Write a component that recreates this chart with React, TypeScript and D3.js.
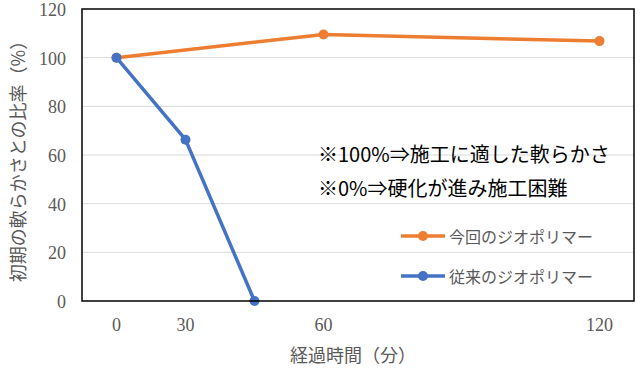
import React from "react";
import * as d3 from "d3";

const categories = ["0", "30", "45", "60", "75", "90", "105", "120"];
const tickLabels = ["0", "30", "", "60", "", "", "", "120"];
const newSeries: [string, number][] = [["0", 100], ["60", 109.5], ["120", 106.8]];
const oldSeries: [string, number][] = [["0", 100], ["30", 66.3], ["45", 0]];
const yTicks = [0, 20, 40, 60, 80, 100, 120];
const seriesNames = ["今回のジオポリマー", "従来のジオポリマー"];
const notes = ["※100%⇒施工に適した軟らかさ", "※0%⇒硬化が進み施工困難"];

const W = 640, H = 370;
const left = 82, right = 634, top = 9, bottom = 301;
const ORANGE = "#ED7D31", BLUE = "#4472C4";
const jp = "'Noto Sans CJK JP', 'Noto Sans', sans-serif";
const serif = "Liberation Serif, DejaVu Serif, serif";

export default function App() {
  const x = d3.scaleBand<string>().domain(categories).range([left, right]);
  const cx = (c: string) => (x(c) as number) + x.bandwidth() / 2;
  const y = d3.scaleLinear().domain([0, 120]).range([bottom, top]);
  const line = d3.line<[string, number]>().x(d => cx(d[0])).y(d => y(d[1]));

  const series = [
    { data: newSeries, color: ORANGE },
    { data: oldSeries, color: BLUE },
  ];

  return (
    <svg width={W} height={H} style={{ position: "absolute", left: 0, top: 0, background: "#fff" }}>
      <rect x={0} y={0} width={W} height={H} fill="#fff" />
      {yTicks.filter(t => t > 0 && t < 120).map(t => (
        <line key={t} x1={left} x2={right} y1={y(t)} y2={y(t)} stroke="#d9d9d9" strokeWidth={1} />
      ))}
      {yTicks.map(t => (
        <text key={t} x={left - 16} y={y(t) + 1} textAnchor="end" dominantBaseline="central"
          style={{ fontFamily: serif }} fontSize={18} fill="#595959">{t}</text>
      ))}
      {categories.map((c, i) => (
        <text key={c} x={cx(c)} y={325} textAnchor="middle" dominantBaseline="central"
          style={{ fontFamily: serif }} fontSize={18} fill="#595959">{tickLabels[i]}</text>
      ))}
      <text x={353} y={354} textAnchor="middle" dominantBaseline="central"
        fontFamily={jp} fontSize={18} fill="#595959">経過時間（分）</text>
      <text transform={`translate(17,${(top + bottom) / 2 + 2}) rotate(-90)`} textAnchor="middle"
        dominantBaseline="central" fontFamily={jp} fontSize={18} fill="#595959">初期の軟らかさとの比率（%）</text>

      {notes.map((n, i) => (
        <text key={n} x={318} y={153 + i * 34} dominantBaseline="central"
          fontFamily={jp} fontSize={20} fill="#000">{n}</text>
      ))}

      {series.map((s, i) => (
        <g key={i}>
          <path d={line(s.data) || ""} fill="none" stroke={s.color} strokeWidth={3.5} strokeLinejoin="round" />
          {s.data.map((d, j) => (
            <circle key={j} cx={cx(d[0])} cy={y(d[1])} r={5} fill={s.color} />
          ))}
        </g>
      ))}

      {seriesNames.map((n, i) => {
        const ly = 236 + i * 40;
        return (
          <g key={n}>
            <line x1={401} x2={445} y1={ly} y2={ly} stroke={series[i].color} strokeWidth={3.5} />
            <circle cx={423} cy={ly} r={5} fill={series[i].color} />
            <text x={449} y={ly} dominantBaseline="central" fontFamily={jp} fontSize={16} fill="#595959">{n}</text>
          </g>
        );
      })}

      <rect x={left} y={top} width={right - left} height={bottom - top} fill="none" stroke="#000" strokeWidth={1.5} />
    </svg>
  );
}
